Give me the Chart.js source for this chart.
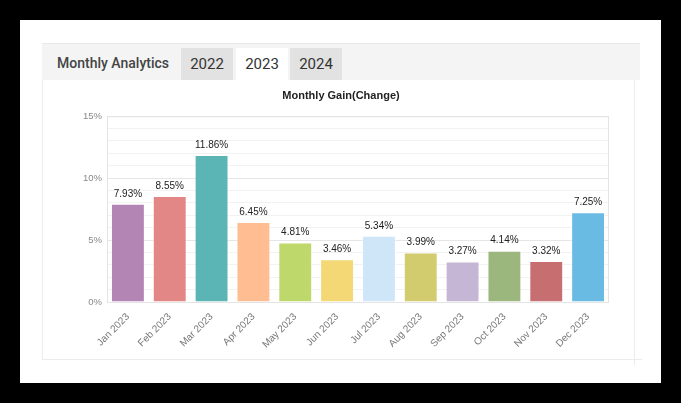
<!DOCTYPE html>
<html>
<head>
<meta charset="utf-8">
<script src="https://cdn.jsdelivr.net/npm/chart.js@4"></script>
<style>
  html, body { margin: 0; padding: 0; background: #000; }
  .frame { position: absolute; left: 20px; top: 20px; width: 641px; height: 363px; background: #fff; }
  .panel { position: absolute; left: 22px; top: 23px; width: 598px; height: 316px; }
  .header { position: absolute; left: 0; top: 0; width: 598px; height: 36px; background: #f4f4f4; border-top: 1px solid #e9e9e9; }
  .header .title { position: absolute; left: 15px; top: 0; height: 36px; font: 500 14px Roboto, sans-serif; line-height: 38px; color: #444; }
  .tab { position: absolute; top: 4px; height: 32px; width: 52px; font: 400 15px Roboto, sans-serif; line-height: 32px; text-align: center; color: #333; background: #e2e2e2; }
  .tab.active { background: #fff; }
  .lineL { position: absolute; left: 0; top: 37px; width: 1px; height: 279px; background: #ececec; }
  .lineR { position: absolute; left: 592px; top: 37px; width: 1px; height: 285px; background: #ececec; }
  .lineB { position: absolute; left: 0; top: 316px; width: 600px; height: 1px; background: #ececec; }
  .wrap { position: absolute; left: 0; top: 37px; width: 598px; height: 279px; }
</style>
</head>
<body>
<div class="frame">
  <div class="panel">
    <div class="header">
      <div class="title">Monthly Analytics</div>
      <div class="tab" style="left:139px">2022</div>
      <div class="tab active" style="left:194px">2023</div>
      <div class="tab" style="left:248px">2024</div>
    </div>
    <div class="lineL"></div>
    <div class="lineR"></div>
    <div class="lineB"></div>
    <div class="wrap"><canvas id="gainChart"></canvas></div>
  </div>
</div>
<script>
// ===== Data =====
const months = ['Jan 2023', 'Feb 2023', 'Mar 2023', 'Apr 2023', 'May 2023', 'Jun 2023',
  'Jul 2023', 'Aug 2023', 'Sep 2023', 'Oct 2023', 'Nov 2023', 'Dec 2023'];
const gains = [7.93, 8.55, 11.86, 6.45, 4.81, 3.46, 5.34, 3.99, 3.27, 4.14, 3.32, 7.25];
const barColors = ['#b385b5', '#e28686', '#5bb5b4', '#ffbd91', '#bed86c', '#f5d876',
  '#cfe6f8', '#d3cc6e', '#c5b6d6', '#9bb77e', '#c76e70', '#6abbe4'];
const yTicks = [0, 5, 10, 15];

const FONT = '"Liberation Sans", Arial, sans-serif';

// draws "7.93%" above each bar
const valueLabels = {
  id: 'valueLabels',
  afterDatasetsDraw(chart) {
    const ctx = chart.ctx;
    const meta = chart.getDatasetMeta(0);
    ctx.save();
    ctx.font = '10px ' + FONT;
    ctx.fillStyle = '#222';
    ctx.textAlign = 'center';
    ctx.textBaseline = 'bottom';
    meta.data.forEach((bar, i) => {
      ctx.fillText(gains[i].toFixed(2) + '%', bar.x, bar.y - 5);
    });
    ctx.restore();
  }
};

// thin border round the plot area
const areaBorder = {
  id: 'areaBorder',
  beforeDatasetsDraw(chart) {
    const { ctx, chartArea: a } = chart;
    ctx.save();
    ctx.strokeStyle = '#e4e4e4';
    ctx.lineWidth = 1;
    ctx.strokeRect(a.left + 0.5, a.top + 0.5, a.right - a.left - 1, a.bottom - a.top);
    ctx.restore();
  }
};

new Chart(document.getElementById('gainChart'), {
  type: 'bar',
  data: {
    labels: months,
    datasets: [{
      data: gains,
      backgroundColor: barColors,
      borderColor: 'rgba(255,255,255,0.35)',
      borderWidth: 1,
      categoryPercentage: 0.9,
      barPercentage: 0.9
    }]
  },
  options: {
    responsive: true,
    maintainAspectRatio: false,
    animation: false,
    layout: { padding: { left: 31, right: 31, top: 0, bottom: 0 } },
    plugins: {
      legend: { display: false },
      tooltip: { enabled: false },
      title: {
        display: true,
        text: 'Monthly Gain(Change)',
        color: '#222',
        font: { family: FONT, size: 11, weight: 'bold' },
        padding: { top: 9, bottom: 14 }
      }
    },
    scales: {
      y: {
        min: 0,
        max: 15,
        afterFit(scale) { scale.width = 34; },
        ticks: {
          stepSize: 1,
          autoSkip: false,
          padding: 5,
          color: '#888',
          font: { family: FONT, size: 9.5 },
          callback: v => (yTicks.includes(v) ? v + '%' : '')
        },
        grid: {
          drawTicks: false,
          color: ctx => (ctx.tick && ctx.tick.value % 5 === 0 ? '#e6e6e6' : '#f2f2f2')
        },
        border: { display: false }
      },
      x: {
        afterFit(scale) { scale.height = 57; },
        ticks: {
          minRotation: 45,
          maxRotation: 45,
          padding: 9,
          color: '#777',
          font: { family: FONT, size: 10 }
        },
        grid: { display: false, drawTicks: false },
        border: { display: false }
      }
    }
  },
  plugins: [areaBorder, valueLabels]
});
</script>
</body>
</html>
